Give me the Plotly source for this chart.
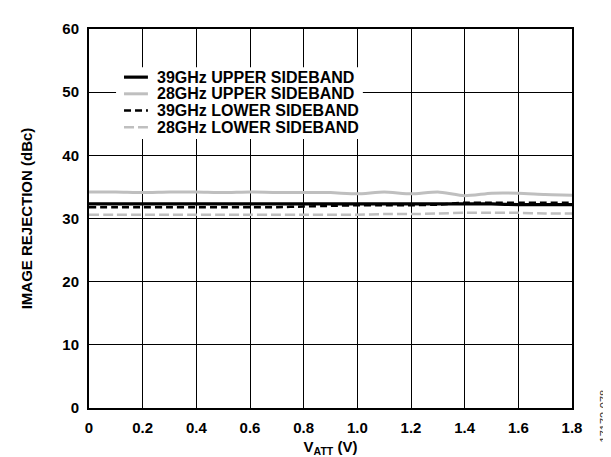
import plotly.graph_objects as go

v_att = [0.0, 0.1, 0.2, 0.3, 0.4, 0.5, 0.6, 0.7, 0.8, 0.9,
         1.0, 1.1, 1.2, 1.3, 1.4, 1.5, 1.6, 1.7, 1.8]
up39 = [32.3, 32.3, 32.3, 32.3, 32.3, 32.3, 32.3, 32.3, 32.3, 32.3,
        32.3, 32.3, 32.3, 32.3, 32.3, 32.3, 32.2, 32.2, 32.2]
up28 = [34.2, 34.2, 34.1, 34.2, 34.2, 34.1, 34.2, 34.1, 34.1, 34.1,
        33.9, 34.2, 33.9, 34.2, 33.6, 34.0, 34.0, 33.8, 33.7]
lo39 = [31.8, 31.8, 31.8, 31.8, 31.8, 31.8, 31.8, 31.8, 31.9, 32.0,
        32.1, 32.1, 32.1, 32.2, 32.5, 32.5, 32.5, 32.5, 32.5]
lo28 = [30.6, 30.6, 30.6, 30.6, 30.6, 30.6, 30.6, 30.6, 30.6, 30.6,
        30.6, 30.7, 30.7, 30.8, 30.9, 30.9, 30.9, 30.8, 30.8]

series_names = ["39GHz UPPER SIDEBAND", "28GHz UPPER SIDEBAND",
                "39GHz LOWER SIDEBAND", "28GHz LOWER SIDEBAND"]
series_values = [up39, up28, lo39, lo28]

x_ticks = [0, 0.2, 0.4, 0.6, 0.8, 1.0, 1.2, 1.4, 1.6, 1.8]
x_labels = ["0", "0.2", "0.4", "0.6", "0.8", "1.0", "1.2", "1.4", "1.6", "1.8"]
y_ticks = [0, 10, 20, 30, 40, 50, 60]

FONT = "Liberation Sans, Arial, sans-serif"
GRAY = "#bfbfbf"
styles = [
    dict(color="black", width=3.2, dash="solid"),
    dict(color=GRAY, width=3, dash="solid"),
    dict(color="black", width=2.5, dash="7px,4px"),
    dict(color=GRAY, width=2.5, dash="10px,4px"),
]

fig = go.Figure()
for name, vals, st in zip(series_names, series_values, styles):
    fig.add_trace(go.Scatter(x=v_att, y=vals, mode="lines", name=name,
                             line=dict(color=st["color"], width=st["width"],
                                       dash=st["dash"], shape="spline", smoothing=0.6),
                             showlegend=False))

fig.update_layout(
    width=611, height=457,
    margin=dict(l=81, r=47, t=20, b=51),
    paper_bgcolor="white", plot_bgcolor="white",
    font=dict(family=FONT, color="black"),
    showlegend=False,
    xaxis=dict(range=[0, 1.8], tickvals=x_ticks, ticktext=x_labels,
               showgrid=True, gridcolor="black", gridwidth=1,
               showline=True, linecolor="black", linewidth=2, mirror=True,
               ticks="", zeroline=False, ticklabelstandoff=5,
               tickfont=dict(family=FONT, size=15, weight="bold"),
               title=dict(text="V<sub>ATT</sub> (V)", standoff=6,
                          font=dict(family=FONT, size=15, weight="bold"))),
    yaxis=dict(range=[0, 60], tickvals=y_ticks,
               showgrid=True, gridcolor="black", gridwidth=1,
               showline=True, linecolor="black", linewidth=2, mirror=True,
               ticks="", zeroline=False, ticklabelstandoff=5,
               tickfont=dict(family=FONT, size=15, weight="bold"),
               title=dict(text="IMAGE REJECTION (dBc)", standoff=26,
                          font=dict(family=FONT, size=15, weight="bold"))),
)

# compact legend: white box covering the grid, line samples, labels
fig.add_shape(type="rect", xref="paper", yref="paper",
              x0=0.056, x1=0.567, y0=0.710, y1=0.899,
              fillcolor="white", line=dict(width=0), layer="above")
row_y = [0.873, 0.829, 0.785, 0.741]
for name, st, yy in zip(series_names, styles, row_y):
    fig.add_shape(type="line", xref="paper", yref="paper",
                  x0=0.0725, x1=0.122, y0=yy, y1=yy,
                  line=dict(color=st["color"], width=st["width"], dash=st["dash"]),
                  layer="above")
    fig.add_annotation(text=name, xref="paper", yref="paper",
                       x=0.139, y=yy, xanchor="left", yanchor="middle",
                       showarrow=False, borderpad=0,
                       font=dict(family=FONT, size=16, color="black", weight="bold"))

fig.add_annotation(text="17172-078", xref="paper", yref="paper",
                   x=1.066, y=-0.02, xanchor="center", yanchor="middle",
                   textangle=-90, showarrow=False,
                   font=dict(family=FONT, size=11, color="#333333"))

fig.write_html("out.html")
